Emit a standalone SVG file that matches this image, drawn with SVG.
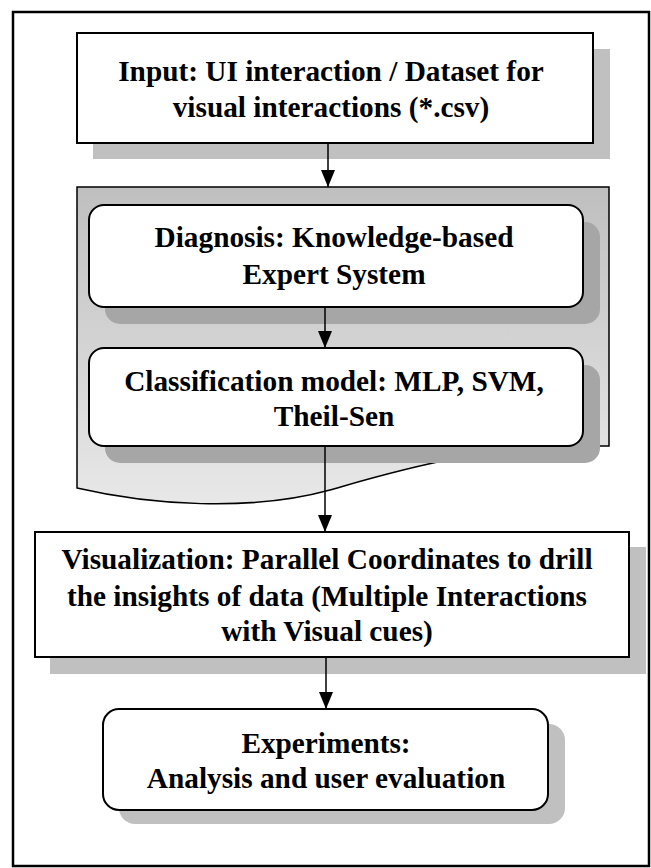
<svg xmlns="http://www.w3.org/2000/svg" width="651" height="868" viewBox="0 0 651 868">
<defs>
<linearGradient id="cg" x1="0" y1="0" x2="0" y2="1">
<stop offset="0" stop-color="#bfbfbf"/>
<stop offset="1" stop-color="#e8e8e8"/>
</linearGradient>
<marker id="ah" markerWidth="17" markerHeight="14" refX="17" refY="7" orient="auto" markerUnits="userSpaceOnUse" viewBox="0 0 17 14">
<path d="M0,0 L17,7 L0,14 Z" fill="#000"/>
</marker>
</defs>
<style>
.box{fill:#fff;stroke:#000;stroke-width:2}
.sh{fill:#c0c0c0}
.sh2{fill:#a6a6a6}
.t{font-family:"Liberation Serif","Times New Roman",serif;font-weight:bold;font-size:29.3px;fill:#000;text-anchor:middle}
.c{stroke:#000;stroke-width:1.5;fill:none}
</style>
<rect x="13" y="12" width="636" height="854" fill="#fff" stroke="#000" stroke-width="2.5"/>

<g id="input">
<rect class="sh" x="93" y="49" width="517" height="110"/>
<rect class="box" x="77" y="33" width="516" height="110"/>
<text class="t" x="331" y="81">Input: UI interaction / Dataset for</text>
<text class="t" x="331" y="117">visual interactions (*.csv)</text>
</g>

<g id="container">
<path d="M77,187 L609,187 L609,446 C480,445 400,470 330,490 C250,512 150,505 77,488 Z" fill="url(#cg)" stroke="#000" stroke-width="1.5"/>
</g>

<g id="diagnosis">
<rect class="sh2" x="105" y="222" width="495" height="102" rx="15"/>
<rect class="box" x="89" y="205" width="494" height="102" rx="15"/>
<text class="t" x="334" y="247">Diagnosis: Knowledge-based</text>
<text class="t" x="334" y="284">Expert System</text>
</g>

<g id="classification">
<rect class="sh2" x="105" y="365" width="495" height="98" rx="15"/>
<rect class="box" x="89" y="348" width="494" height="98" rx="15"/>
<text class="t" x="334" y="391">Classification model: MLP, SVM,</text>
<text class="t" x="334" y="426">Theil-Sen</text>
</g>

<g id="visualization">
<rect class="sh" x="50" y="547" width="596" height="127"/>
<rect class="box" x="35" y="532" width="594" height="125"/>
<text class="t" x="327" y="569">Visualization: Parallel Coordinates to drill</text>
<text class="t" x="327" y="606">the insights of data (Multiple Interactions</text>
<text class="t" x="327" y="641">with Visual cues)</text>
</g>

<g id="experiments">
<rect class="sh" x="119" y="724" width="446" height="100" rx="16"/>
<rect class="box" x="103" y="709" width="445" height="101" rx="16"/>
<text class="t" x="326" y="753">Experiments:</text>
<text class="t" x="326" y="788">Analysis and user evaluation</text>
</g>

<g id="connectors">
<line class="c" x1="328" y1="143" x2="328" y2="187" marker-end="url(#ah)"/>
<line class="c" x1="325" y1="307" x2="325" y2="348" marker-end="url(#ah)"/>
<line class="c" x1="325" y1="446" x2="325" y2="532" marker-end="url(#ah)"/>
<line class="c" x1="326" y1="657" x2="326" y2="709" marker-end="url(#ah)"/>
</g>
</svg>
